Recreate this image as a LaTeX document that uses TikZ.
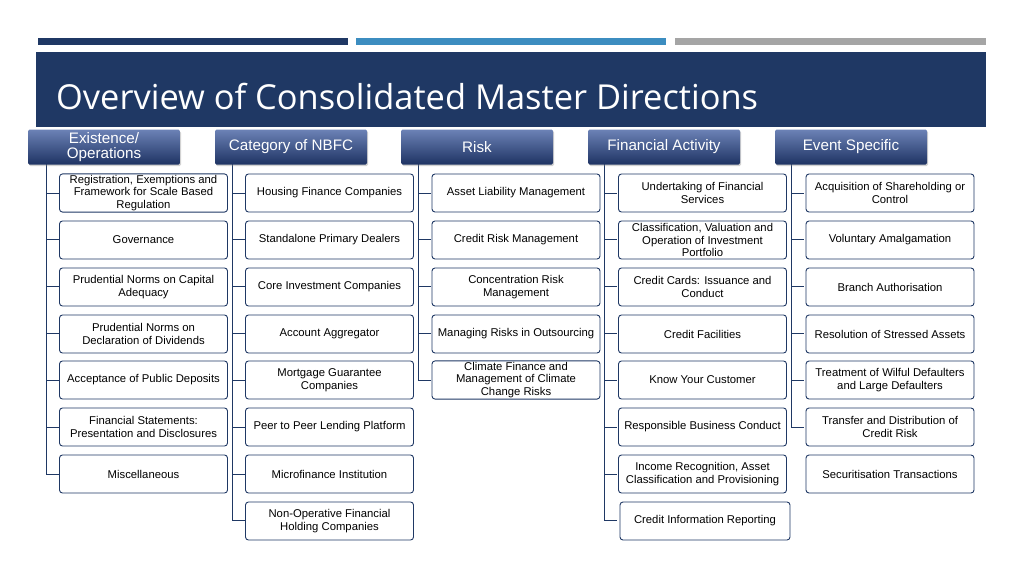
\documentclass[tikz,border=0pt]{standalone}
\usepackage{fontspec}
\usetikzlibrary{shadows}
\setmainfont{Liberation Sans}
\newfontfamily\titlefont{Open Sans}
\begin{document}
\begin{tikzpicture}[x=1pt,y=-1pt,
  hdr/.style={minimum width=152pt,minimum height=35pt,inner sep=1pt,align=center,text=white,font=\fontsize{15.2}{16}\selectfont,rounded corners=1.5pt,top color=hdrtop,bottom color=hdrbot,draw=none,drop shadow={shadow xshift=1pt,shadow yshift=-1.5pt,opacity=0.35}},
  box/.style={draw=navy,line width=0.9pt,fill=white,rounded corners=3pt,minimum width=168pt,minimum height=38pt,align=center,inner sep=1pt,font=\fontsize{11.3}{12.8}\selectfont},
  tree/.style={draw=navy,line width=1pt}]
\definecolor{navy}{HTML}{1F3864}
\definecolor{hdrtop}{HTML}{6C82B6}
\definecolor{hdrbot}{HTML}{1E3363}
\definecolor{midblue}{HTML}{3C8DC0}
\definecolor{bargray}{HTML}{A5A5A5}
\useasboundingbox (0,0) rectangle (1024,576);
\fill[white] (0,0) rectangle (1024,576);
\fill[navy] (38,38) rectangle (348,45);
\fill[midblue] (356,38) rectangle (666,45);
\fill[bargray] (675,38) rectangle (986,45);
\fill[navy] (36,52) rectangle (986,127);
\node[anchor=west,text=white,font=\titlefont\fontsize{34.4}{37}\selectfont,inner sep=0] (title) at (56,97) {Overview of Consolidated Master Directions};
% trees
\foreach \xo/\p/\last in {46/a/7,232/b/8,418/c/5,604/d/8,791/e/6}{
  \foreach \i in {1,...,\last}{
    \pgfmathsetmacro\yy{193+(\i-1)*46.85}
    \draw[tree] (\xo,160) |- (\xo+13,\yy);
  }
}
% headers
\foreach \n/\x/\t in {h1/104/{Existence/\\Operations},h2/291/Category of NBFC,h3/477/Risk,h4/664/Financial Activity,h5/851/Event Specific}
  \node[hdr] (\n) at (\x,147) {\raisebox{1pt}{\shortstack{\t}}};
% column 1
\node[box] (a1) at (143.5,193) {Registration, Exemptions and\\Framework for Scale Based\\Regulation};
\node[box] (a2) at (143.5,240) {Governance};
\node[box] (a3) at (143.5,287) {Prudential Norms on Capital\\Adequacy};
\node[box] (a4) at (143.5,334) {Prudential Norms on\\Declaration of Dividends};
\node[box] (a5) at (143.5,380) {Acceptance of Public Deposits};
\node[box] (a6) at (143.5,427) {Financial Statements:\\Presentation and Disclosures};
\node[box] (a7) at (143.5,474) {Miscellaneous};
% column 2
\node[box] (b1) at (329.5,193) {Housing Finance Companies};
\node[box] (b2) at (329.5,240) {Standalone Primary Dealers};
\node[box] (b3) at (329.5,287) {Core Investment Companies};
\node[box] (b4) at (329.5,334) {Account Aggregator};
\node[box] (b5) at (329.5,380) {Mortgage Guarantee\\Companies};
\node[box] (b6) at (329.5,427) {Peer to Peer Lending Platform};
\node[box] (b7) at (329.5,474) {Microfinance Institution};
\node[box] (b8) at (329.5,521) {Non-Operative Financial\\Holding Companies};
% column 3
\node[box] (c1) at (516,193) {Asset Liability Management};
\node[box] (c2) at (516,240) {Credit Risk Management};
\node[box] (c3) at (516,287) {Concentration Risk\\Management};
\node[box] (c4) at (516,334) {Managing Risks in Outsourcing};
\node[box] (c5) at (516,380) {Climate Finance and\\Management of Climate\\Change Risks};
% column 4
\node[box] (d1) at (702.5,193) {Undertaking of Financial\\Services};
\node[box] (d2) at (702.5,240) {Classification, Valuation and\\Operation of Investment\\Portfolio};
\node[box] (d3) at (702.5,287) {Credit Cards: Issuance and\\Conduct};
\node[box] (d4) at (702.5,334) {Credit Facilities};
\node[box] (d5) at (702.5,380) {Know Your Customer};
\node[box] (d6) at (702.5,427) {Responsible Business Conduct};
\node[box] (d7) at (702.5,474) {Income Recognition, Asset\\Classification and Provisioning};
\node[box,minimum width=170pt] (d8) at (705,521) {Credit Information Reporting};
% column 5
\node[box] (e1) at (890,193) {Acquisition of Shareholding or\\Control};
\node[box] (e2) at (890,240) {Voluntary Amalgamation};
\node[box] (e3) at (890,287) {Branch Authorisation};
\node[box] (e4) at (890,334) {Resolution of Stressed Assets};
\node[box] (e5) at (890,380) {Treatment of Wilful Defaulters\\and Large Defaulters};
\node[box] (e6) at (890,427) {Transfer and Distribution of\\Credit Risk};
\node[box] (e7) at (890,474) {Securitisation Transactions};
\end{tikzpicture}
\end{document}
